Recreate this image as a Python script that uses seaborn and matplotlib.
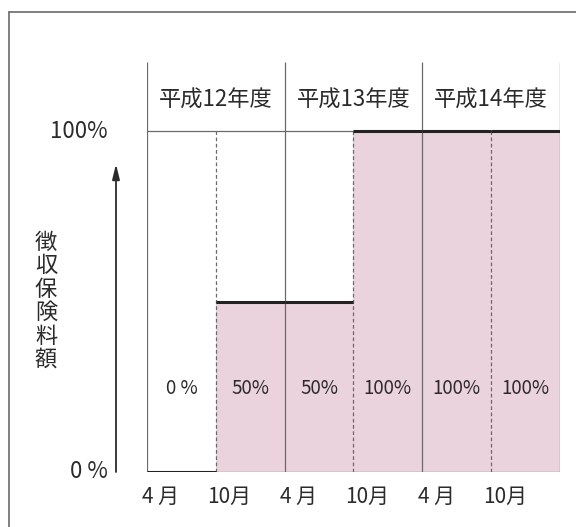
import seaborn as sns
import pandas as pd
import matplotlib.pyplot as plt
from matplotlib.lines import Line2D

# half-year periods (H12 April .. H14 October) and collected share of premium
periods = ["H12-04", "H12-10", "H13-04", "H13-10", "H14-04", "H14-10"]
rates = [0, 50, 50, 100, 100, 100]
rate_labels = ["0 %", "50%", "50%", "100%", "100%", "100%"]
month_labels = ["4 月", "10月", "4 月", "10月", "4 月", "10月"]
fiscal_years = ["平成12年度", "平成13年度", "平成14年度"]
y_labels = ["0 %", "100%"]
y_title = "徴収保険料額"

pink = "#ebd3dd"
ink = "#2b2b2b"
grey = "#6a6a6a"

sns.set_style("white")
plt.rcParams['font.family'] = ['Noto Sans CJK JP', 'DejaVu Sans']

df = pd.DataFrame({"period": periods, "rate": rates})

fig = plt.figure(figsize=(5.76, 5.27), dpi=100)
ax = fig.add_axes([147 / 576, 1 - 472 / 527, 413 / 576, 410 / 527])
ymax = 100 * 410 / 341

sns.barplot(data=df, x="period", y="rate", color=pink, saturation=1,
            width=1.0, linewidth=0, ax=ax)
ax.set_xlim(-0.5, len(periods) - 0.5)
ax.set_ylim(0, ymax)
ax.set_axis_off()

n = len(periods)
# thin guide lines at 0% and 100%
ax.hlines([0, 100], -0.5, n - 0.5, color=grey, lw=0.9)
# fiscal-year separators (solid, into the header) and half-year splits (dashed)
for i in range(0, n + 1, 2):
    ax.vlines(i - 0.5, 0, ymax, color=grey, lw=0.9)
for i in range(1, n, 2):
    ax.vlines(i - 0.5, 0, 100, color=grey, lw=0.9, linestyles=(0, (3, 2)))
# thick step line on top of each period
for i, r in enumerate(rates):
    ax.hlines(r, i - 0.5, i + 0.5, color="#222222", lw=2.2, zorder=5)

for i, lab in enumerate(rate_labels):
    ax.text(i, 24.6, lab, ha="center", va="center", fontsize=13.5, color=ink)
for i, lab in enumerate(month_labels):
    ax.text(i - 0.3, -7.3, lab, ha="center", va="center", fontsize=15, color=ink)
for j, lab in enumerate(fiscal_years):
    ax.text(2 * j + 0.5, 109.1, lab, ha="center", va="center", fontsize=16, color=ink)

# y axis labels, arrow and title
fig.text(108 / 576, 1 - 471 / 527, y_labels[0], ha="right", va="center", fontsize=16, color=ink)
fig.text(108 / 576, 1 - 131 / 527, y_labels[1], ha="right", va="center", fontsize=16, color=ink)
ax.annotate("", xy=(116 / 576, 1 - 164 / 527), xytext=(116 / 576, 1 - 472 / 527),
            xycoords="figure fraction", textcoords="figure fraction",
            arrowprops=dict(arrowstyle="-|>,head_length=0.9,head_width=0.22",
                            lw=1.3, color=ink, shrinkA=0, shrinkB=0))
fig.text(46 / 576, 1 - 301 / 527, "\n".join(y_title), ha="center", va="center",
         fontsize=16, color=ink, linespacing=1.02)

# outer frame (top and left edges)
fig.add_artist(Line2D([9 / 576, 9 / 576], [0, 1 - 12 / 527], color=grey, lw=1.2))
fig.add_artist(Line2D([9 / 576, 1], [1 - 12 / 527, 1 - 12 / 527], color=grey, lw=1.2))

fig.savefig("out.png", dpi=100)
